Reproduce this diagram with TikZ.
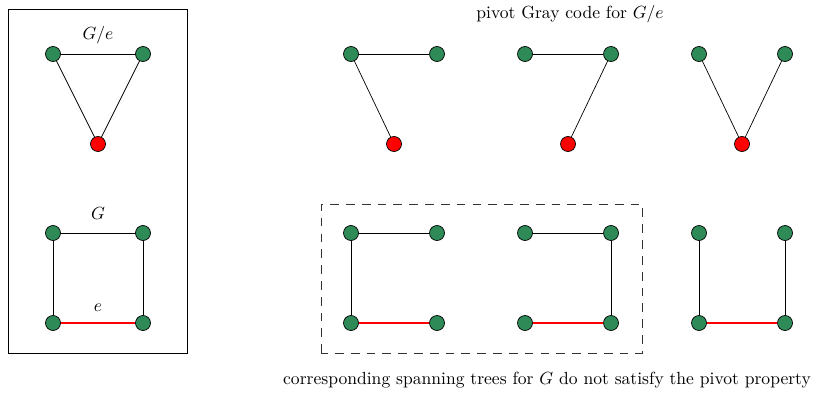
\documentclass[tikz,border=0pt]{standalone}
\usepackage{amsmath}
\usepackage{tikz}
\usetikzlibrary{positioning}
\definecolor{vgreen}{RGB}{46,139,87}
\tikzset{
  vert/.style={circle, draw, fill=vgreen, inner sep=0pt, minimum size=0.3cm},
  cvert/.style={vert, fill=red},
  redge/.style={red, thick},
}

\begin{document}
\begin{tikzpicture}
  \useasboundingbox (0,0) rectangle (16.72,7.96);

  % left box: G/e and G
  \draw (0.16,0.9) rectangle (3.74,7.78);
  \node[vert] (ca) at (1.06,6.88) {};
  \node[vert] (cb) at (2.86,6.88) {};
  \node[cvert] (cc) at (1.96,5.08) {};
  \node (clabel) at (1.96,7.26) {$G/e$};
  \draw (ca) -- (cb);
  \draw (ca) -- (cc);
  \draw (cb) -- (cc);

  \node[vert] (ga) at (1.06,3.30) {};
  \node[vert] (gb) at (2.86,3.30) {};
  \node[vert] (gc) at (1.06,1.50) {};
  \node[vert] (gd) at (2.86,1.50) {};
  \node (glabel) at (1.96,3.70) {$G$};
  \node (elabel) at (1.96,1.80) {$e$};
  \draw (ga) -- (gb);
  \draw (ga) -- (gc);
  \draw (gb) -- (gd);
  \draw[redge] (gc) -- (gd);

  % right: gray code and trees
  \node (top) at (11.40,7.68) {pivot Gray code for $G/e$};
  \foreach \i/\x in {1/7.02, 2/10.50, 3/13.98} {
    \node[vert] (pa\i) at (\x,6.88) {};
    \node[vert] (pb\i) at (\x+1.72,6.88) {};
    \node[cvert] (pc\i) at (\x+0.86,5.08) {};

    \node[vert] (ta\i) at (\x,3.30) {};
    \node[vert] (tb\i) at (\x+1.72,3.30) {};
    \node[vert] (tc\i) at (\x,1.50) {};
    \node[vert] (td\i) at (\x+1.72,1.50) {};
    \draw[redge] (tc\i) -- (td\i);
  }
  \draw (pa1) -- (pb1);
  \draw (pa1) -- (pc1);
  \draw (pa2) -- (pb2);
  \draw (pb2) -- (pc2);
  \draw (pa3) -- (pc3);
  \draw (pb3) -- (pc3);

  \draw (ta1) -- (tb1);
  \draw (ta1) -- (tc1);
  \draw (ta2) -- (tb2);
  \draw (tb2) -- (td2);
  \draw (ta3) -- (tc3);
  \draw (tb3) -- (td3);

  \draw[black!80, dash pattern=on 5pt off 4pt] (6.42,0.90) rectangle (12.84,3.88);
  \node (bottom) at (10.94,0.36) {corresponding spanning trees for $G$ do not satisfy the pivot property};
\end{tikzpicture}
\end{document}
